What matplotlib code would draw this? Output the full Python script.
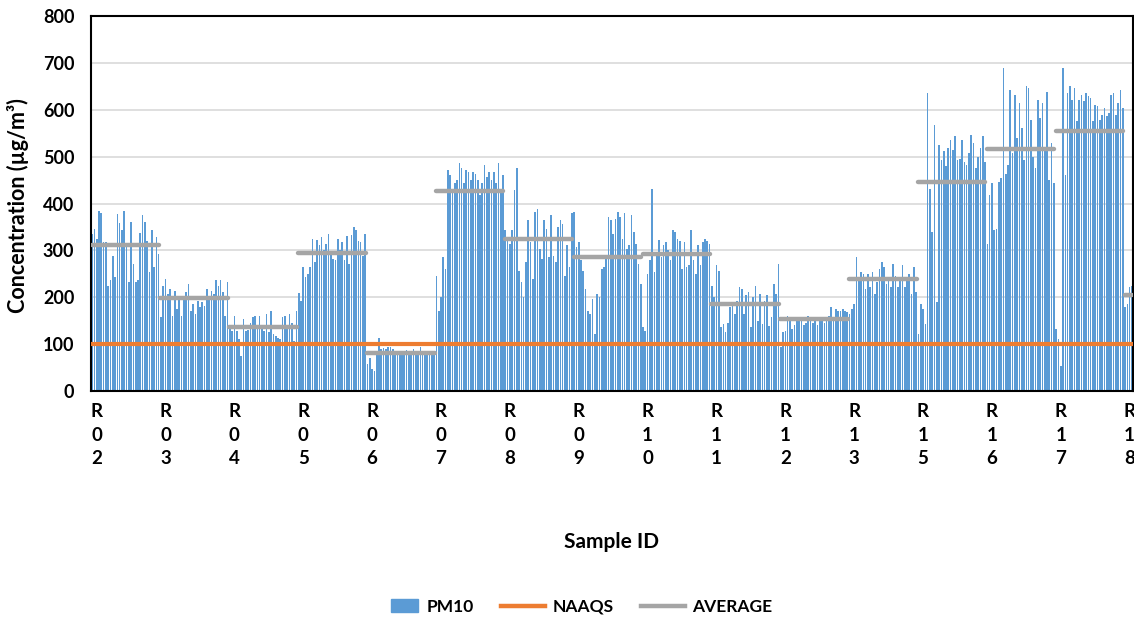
import matplotlib
matplotlib.use('Agg')
import matplotlib.pyplot as plt
from matplotlib.patches import Patch, Rectangle
from matplotlib.lines import Line2D
from matplotlib.legend_handler import HandlerPatch
import numpy as np

plt.rcParams['font.family'] = ['Lato', 'DejaVu Sans']
plt.rcParams['font.weight'] = 'bold'

# PM10 daily readings per site (ug/m3)
r02 = [336, 346, 325, 384, 380, 318, 318, 223, 236, 287, 244, 378, 358, 343, 384,
       311, 232, 361, 271, 232, 236, 337, 376, 361, 321, 254, 343, 264, 329, 293]
r03 = [157, 225, 239, 207, 218, 161, 214, 175, 196, 161, 196, 211, 229, 171, 186,
       164, 193, 179, 189, 182, 218, 196, 214, 207, 236, 225, 236, 211, 161, 232]
r04 = [132, 129, 159, 128, 111, 75, 154, 129, 130, 146, 157, 159, 139, 161, 136,
       129, 164, 125, 170, 121, 118, 114, 111, 157, 161, 136, 164, 145, 107, 170]
r05 = [209, 193, 264, 243, 250, 264, 325, 275, 323, 311, 329, 300, 314, 336, 293,
       282, 279, 325, 300, 318, 279, 330, 271, 332, 349, 343, 321, 318, 289, 336]
r06 = [57, 71, 46, 43, 79, 114, 89, 92, 89, 93, 94, 89, 86, 83, 83,
       86, 84, 87, 83, 85, 89, 84, 86, 93, 85, 83, 84, 86, 83, 84]
r07 = [246, 171, 200, 286, 261, 471, 461, 432, 443, 450, 486, 475, 443, 471, 468,
       450, 468, 464, 450, 418, 443, 482, 457, 468, 450, 468, 443, 486, 429, 461]
r08 = [343, 321, 314, 344, 429, 475, 257, 232, 200, 275, 364, 318, 239, 382, 389,
       304, 282, 364, 346, 286, 375, 289, 275, 350, 364, 357, 246, 311, 264, 379]
r09 = [382, 307, 318, 279, 257, 218, 171, 164, 196, 121, 207, 200, 261, 264, 282,
       371, 364, 336, 368, 382, 371, 325, 379, 304, 311, 375, 339, 314, 271, 229]
r10 = [136, 129, 250, 279, 430, 254, 293, 323, 286, 311, 318, 300, 279, 344, 339,
       325, 321, 261, 318, 264, 268, 343, 279, 250, 311, 268, 318, 325, 321, 314]
r11 = [225, 200, 268, 257, 136, 143, 125, 146, 179, 182, 164, 193, 221, 218, 164,
       204, 211, 136, 200, 225, 150, 207, 143, 193, 204, 139, 157, 229, 207, 271]
r12 = [93, 125, 129, 161, 150, 132, 140, 152, 157, 150, 140, 145, 160, 150, 145,
       155, 140, 150, 157, 145, 150, 160, 179, 157, 175, 171, 171, 175, 170, 168]
r13 = [164, 175, 186, 286, 243, 254, 250, 218, 250, 221, 254, 207, 232, 261, 275,
       264, 229, 243, 221, 271, 246, 221, 243, 268, 221, 236, 250, 207, 264, 211]
r15 = [121, 186, 175, 143, 636, 432, 339, 568, 189, 525, 493, 511, 479, 518, 536,
       514, 543, 493, 496, 536, 489, 482, 507, 546, 529, 475, 500, 518, 543, 489]
r16 = [314, 418, 443, 343, 346, 446, 454, 689, 464, 482, 643, 507, 632, 539, 614,
       561, 493, 650, 646, 579, 500, 475, 621, 582, 614, 518, 637, 450, 529, 443]
r17 = [132, 111, 54, 689, 461, 636, 650, 621, 646, 575, 621, 632, 618, 636, 629,
       625, 575, 611, 607, 579, 589, 604, 586, 593, 632, 636, 589, 614, 643, 604]
r18 = [180, 186, 221, 225]

sites = ['R02', 'R03', 'R04', 'R05', 'R06', 'R07', 'R08', 'R09',
         'R10', 'R11', 'R12', 'R13', 'R15', 'R16', 'R17', 'R18']
averages = [311, 199, 137, 295, 82, 426, 324, 285, 293, 186, 154, 239, 446, 516, 555, 204]
naaqs = 100

groups = [r02, r03, r04, r05, r06, r07, r08, r09, r10, r11, r12, r13, r15, r16, r17, r18]
pm10 = np.concatenate([np.array(g, dtype=float) for g in groups])
x = np.arange(len(pm10))
starts = np.cumsum([0] + [len(g) for g in groups])

fig = plt.figure(figsize=(11.34, 6.26), dpi=100)
ax = fig.add_axes([0.0802, 0.3754, 0.919, 0.599])

ax.bar(x, pm10, width=0.72, color='#5B9BD5', zorder=2)
ax.axhline(naaqs, color='#ED7D31', lw=3, zorder=3)
for i in range(len(groups)):
    ax.plot([starts[i] - 0.2, starts[i + 1] - 0.8], [averages[i], averages[i]],
            color='#A5A5A5', lw=3.2, solid_capstyle='round', zorder=4)

ax.set_xlim(-0.5, len(pm10) - 0.5)
ax.set_ylim(0, 800)
ax.set_yticks(np.arange(0, 801, 100))
ax.yaxis.grid(True, color='#D9D9D9', lw=1.2, zorder=0)
ax.set_axisbelow(True)
ax.tick_params(axis='y', length=0, pad=12, labelsize=13)

ax.set_xticks(starts[:-1] + 2)
ax.set_xticklabels(['\n'.join(s) for s in sites], fontsize=13.5, linespacing=1.45,
                   fontweight='bold')
ax.tick_params(axis='x', length=0, pad=9)

for sp in ax.spines.values():
    sp.set_color('black')
    sp.set_linewidth(1.5)

fig.text(0.016, 0.672, 'Concentration (µg/m³)', rotation=90, ha='center', va='center',
         fontsize=15.5, fontweight='bold')
fig.text(0.539, 0.134, 'Sample ID', ha='center', va='center', fontsize=15, fontweight='bold')


def small_box(legend, orig_handle, xdescent, ydescent, width, height, fontsize):
    w = width * 0.62
    return Rectangle((width - w - xdescent, -ydescent), w, height * 1.05)


handles = [Patch(color='#5B9BD5'),
           Line2D([], [], color='#ED7D31', lw=3.2),
           Line2D([], [], color='#A5A5A5', lw=3.2)]
fig.legend(handles, ['PM10', 'NAAQS', 'AVERAGE'], loc='center', ncol=3,
           bbox_to_anchor=(0.506, 0.031), frameon=False, fontsize=12.5,
           handlelength=2.5, handletextpad=0.45, columnspacing=1.6,
           handler_map={Patch: HandlerPatch(patch_func=small_box)})

fig.savefig('out.png', dpi=100)
